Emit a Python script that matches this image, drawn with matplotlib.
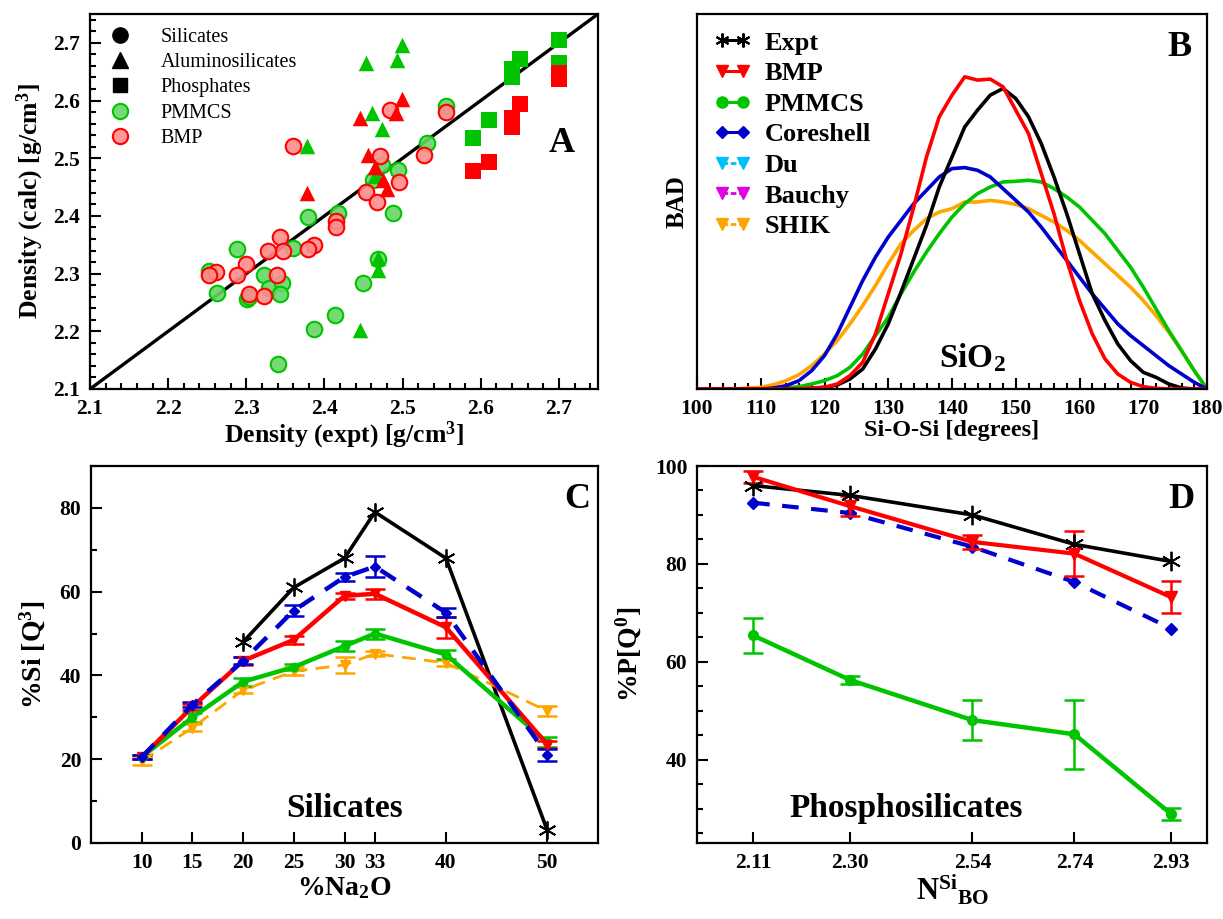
import matplotlib
matplotlib.use("Agg")
import matplotlib.pyplot as plt
from matplotlib.lines import Line2D
from matplotlib.ticker import MultipleLocator, NullLocator

plt.rcParams['font.family'] = ['Liberation Serif', 'DejaVu Serif']
plt.rcParams['font.weight'] = 'bold'
plt.rcParams['axes.labelweight'] = 'bold'
plt.rcParams['mathtext.fontset'] = 'custom'
plt.rcParams['mathtext.rm'] = 'Liberation Serif:bold'
plt.rcParams['mathtext.bf'] = 'Liberation Serif:bold'
plt.rcParams['mathtext.it'] = 'Liberation Serif:bold:italic'

GREEN = '#00c400'
RED = '#ff0000'
BLUE = '#0000cc'
ORANGE = '#ffa500'
CYAN = '#00bfff'
MAGENTA = '#e000e0'

# ---------------- Panel A: density scatter ----------------
pmmcs_sil_x = [2.555, 2.531, 2.494, 2.473, 2.462, 2.488, 2.379, 2.417, 2.360, 2.288, 2.252,
               2.263, 2.301, 2.304, 2.323, 2.329, 2.346, 2.343, 2.449, 2.414, 2.386, 2.340, 2.468]
pmmcs_sil_y = [2.591, 2.526, 2.479, 2.488, 2.462, 2.405, 2.398, 2.405, 2.345, 2.343, 2.304,
               2.266, 2.256, 2.259, 2.298, 2.275, 2.283, 2.264, 2.284, 2.229, 2.204, 2.143, 2.325]
bmp_sil_x = [2.360, 2.484, 2.555, 2.528, 2.471, 2.496, 2.453, 2.467, 2.415, 2.415, 2.386,
             2.379, 2.343, 2.347, 2.328, 2.300, 2.288, 2.261, 2.252, 2.339, 2.303, 2.323]
bmp_sil_y = [2.522, 2.584, 2.581, 2.506, 2.504, 2.459, 2.442, 2.425, 2.392, 2.381, 2.350,
             2.343, 2.363, 2.339, 2.340, 2.317, 2.297, 2.303, 2.297, 2.298, 2.264, 2.262]
pmmcs_alu_x = [2.453, 2.493, 2.499, 2.461, 2.474, 2.378, 2.468, 2.468, 2.446, 2.465]
pmmcs_alu_y = [2.665, 2.671, 2.697, 2.579, 2.550, 2.521, 2.327, 2.307, 2.203, 2.470]
bmp_alu_x = [2.445, 2.499, 2.492, 2.378, 2.456, 2.465, 2.475, 2.480]
bmp_alu_y = [2.570, 2.602, 2.579, 2.440, 2.506, 2.485, 2.462, 2.447]
pmmcs_pho_x = [2.59, 2.61, 2.64, 2.64, 2.65, 2.70, 2.70]
pmmcs_pho_y = [2.535, 2.567, 2.640, 2.655, 2.672, 2.705, 2.665]
bmp_pho_x = [2.59, 2.61, 2.64, 2.64, 2.65, 2.70, 2.70]
bmp_pho_y = [2.478, 2.494, 2.555, 2.570, 2.594, 2.637, 2.648]

# ---------------- Panel B: Si-O-Si bond angle distributions ----------------
angle = list(range(100, 181, 2))
bad_expt = [0, 0, 0, 0, 0, 0, 0, 0, 0, 0.002, 0.005, 0.012, 0.03, 0.06, 0.12, 0.195, 0.29,
            0.39, 0.49, 0.605, 0.695, 0.785, 0.835, 0.88, 0.9, 0.87, 0.815, 0.735, 0.635,
            0.525, 0.405, 0.285, 0.205, 0.135, 0.085, 0.05, 0.035, 0.015, 0.003, 0, 0]
bad_bmp = [0, 0, 0, 0, 0, 0, 0, 0, 0, 0.003, 0.005, 0.015, 0.04, 0.08, 0.165, 0.285, 0.405,
           0.545, 0.695, 0.815, 0.88, 0.935, 0.925, 0.928, 0.905, 0.835, 0.765, 0.645, 0.525,
           0.385, 0.265, 0.165, 0.09, 0.045, 0.02, 0.007, 0.002, 0, 0, 0, 0]
bad_pmmcs = [0, 0, 0, 0, 0, 0, 0, 0.003, 0.007, 0.015, 0.025, 0.04, 0.065, 0.105, 0.16, 0.215,
             0.285, 0.35, 0.41, 0.465, 0.515, 0.555, 0.585, 0.605, 0.62, 0.622, 0.625, 0.62,
             0.6, 0.575, 0.545, 0.505, 0.465, 0.415, 0.365, 0.305, 0.24, 0.175, 0.115, 0.055, 0]
bad_coreshell = [0, 0, 0, 0, 0, 0, 0.003, 0.01, 0.025, 0.055, 0.1, 0.165, 0.245, 0.325, 0.395,
                 0.455, 0.505, 0.555, 0.595, 0.635, 0.66, 0.663, 0.655, 0.635, 0.6, 0.565, 0.53,
                 0.485, 0.435, 0.385, 0.335, 0.285, 0.24, 0.195, 0.16, 0.13, 0.1, 0.07, 0.045,
                 0.02, 0]
bad_shik = [0, 0, 0, 0, 0.003, 0.005, 0.013, 0.025, 0.043, 0.07, 0.105, 0.145, 0.195, 0.25,
            0.31, 0.375, 0.435, 0.475, 0.51, 0.53, 0.54, 0.56, 0.56, 0.565, 0.56, 0.553, 0.54,
            0.52, 0.5, 0.475, 0.445, 0.41, 0.375, 0.34, 0.305, 0.265, 0.22, 0.17, 0.115, 0.055, 0]

# ---------------- Panel C: silicates Q3 ----------------
na2o = [10, 15, 20, 25, 30, 33, 40, 50]
c_expt_x = [20, 25, 30, 33, 40, 50]
c_expt = [48, 61, 68, 79, 68, 3]
c_core = [20.5, 33, 43.5, 55.5, 63.5, 66, 55, 21]
c_core_err = [0.5, 0.6, 0.8, 1.2, 1.0, 2.5, 1.0, 1.5]
c_bmp = [20.5, 32.5, 43.5, 48.5, 59, 59.5, 51.5, 23.5]
c_bmp_err = [0.5, 0.8, 1.0, 1.0, 0.7, 1.2, 2.5, 0.8]
c_pmmcs = [20.5, 30, 38.5, 42, 47, 50, 45, 24]
c_pmmcs_err = [0.5, 1.0, 1.0, 0.8, 1.2, 1.2, 1.0, 1.2]
c_shik = [19.5, 27.5, 36.5, 41, 42.5, 45.2, 43, 31.5]
c_shik_err = [0.8, 0.8, 0.8, 1.0, 2.0, 0.6, 0.8, 1.2]

# ---------------- Panel D: phosphosilicates P Q0 ----------------
nbo = [2.11, 2.30, 2.54, 2.74, 2.93]
nbo_labels = ['2.11', '2.30', '2.54', '2.74', '2.93']
d_expt = [96, 94, 90, 84, 80.5]
d_bmp = [97.8, 91.8, 84.5, 82.1, 73.2]
d_bmp_err = [1.2, 2.0, 1.5, 4.6, 3.3]
d_core = [92.5, 90.4, 83.5, 76.3, 66.8]
d_pmmcs = [65.4, 56.3, 48.1, 45.2, 28.9]
d_pmmcs_err = [3.6, 0.8, 4.1, 7.0, 1.2]

W, H = 1223, 919
fig = plt.figure(figsize=(W / 100, H / 100), dpi=100)


def box(l, t, r, b):
    return [l / W, 1 - b / H, (r - l) / W, (b - t) / H]


def style(ax):
    for s in ax.spines.values():
        s.set_linewidth(1.6)
    ax.tick_params(which='both', direction='in', top=False, right=False, width=1.5,
                   labelsize=15.5, pad=7)
    ax.tick_params(which='major', length=8)
    ax.tick_params(which='minor', length=4.5)


ax_a = fig.add_axes(box(90, 14, 598, 389))
ax_b = fig.add_axes(box(697, 14, 1207, 389))
ax_c = fig.add_axes(box(91, 466, 598, 843))
ax_d = fig.add_axes(box(697, 466, 1207, 843))

# ----- A -----
ax = ax_a
style(ax)
ax.plot([2.1, 2.75], [2.1, 2.75], color='black', lw=2.4, zorder=1)
gface = (0.4, 0.84, 0.4, 0.9)
rface = (1.0, 0.55, 0.55, 0.9)
ms = 125
ax.scatter(pmmcs_sil_x, pmmcs_sil_y, s=ms, marker='o', facecolor=gface, edgecolor=GREEN, lw=1.5, zorder=2)
ax.scatter(bmp_sil_x, bmp_sil_y, s=ms, marker='o', facecolor=rface, edgecolor=RED, lw=1.5, zorder=3)
ax.scatter(pmmcs_alu_x, pmmcs_alu_y, s=ms, marker='^', color=GREEN, lw=0, zorder=2)
ax.scatter(bmp_alu_x, bmp_alu_y, s=ms, marker='^', color=RED, lw=0, zorder=3)
ax.scatter(pmmcs_pho_x, pmmcs_pho_y, s=ms * 0.95, marker='s', color=GREEN, lw=0, zorder=2)
ax.scatter(bmp_pho_x, bmp_pho_y, s=ms * 0.95, marker='s', color=RED, lw=0, zorder=3)
ax.set_xlim(2.1, 2.75)
ax.set_ylim(2.1, 2.75)
ticks_a = [2.1, 2.2, 2.3, 2.4, 2.5, 2.6, 2.7]
ax.set_xticks(ticks_a)
ax.set_yticks(ticks_a)
ax.set_xticklabels([f'{v:.1f}' for v in ticks_a])
ax.set_yticklabels([f'{v:.1f}' for v in ticks_a])
ax.xaxis.set_minor_locator(MultipleLocator(0.02))
ax.yaxis.set_minor_locator(MultipleLocator(0.02))
ax.set_xlabel('Density (expt) [g/cm$^3$]', fontsize=18.5, labelpad=1)
ax.set_ylabel('Density (calc) [g/cm$^3$]', fontsize=18.5, labelpad=5)
ax.text(2.72, 2.525, 'A', fontsize=26, ha='right', va='center')
handles_a = [
    Line2D([], [], ls='none', marker='o', ms=11, color='black'),
    Line2D([], [], ls='none', marker='^', ms=11, color='black'),
    Line2D([], [], ls='none', marker='s', ms=10, color='black'),
    Line2D([], [], ls='none', marker='o', ms=11, mfc=gface, mec=GREEN, mew=1.5),
    Line2D([], [], ls='none', marker='o', ms=11, mfc=rface, mec=RED, mew=1.5),
]
ax.legend(handles_a, ['Silicates', 'Aluminosilicates', 'Phosphates', 'PMMCS', 'BMP'],
          loc='upper left', frameon=False, prop={'weight': 'normal', 'size': 14.5},
          handletextpad=1.2, labelspacing=0.3, borderaxespad=0.3, handlelength=1.6)

# ----- B -----
ax = ax_b
style(ax)
lw_b = 2.6
ax.plot(angle, bad_shik, color=ORANGE, lw=lw_b)
ax.plot(angle, bad_pmmcs, color=GREEN, lw=lw_b)
ax.plot(angle, bad_coreshell, color=BLUE, lw=lw_b)
ax.plot(angle, bad_expt, color='black', lw=lw_b)
ax.plot(angle, bad_bmp, color=RED, lw=lw_b)
ax.set_xlim(100, 180)
ax.set_ylim(0, 1.123)
ax.xaxis.set_major_locator(MultipleLocator(10))
ax.xaxis.set_minor_locator(MultipleLocator(2))
ax.yaxis.set_major_locator(NullLocator())
ax.yaxis.set_minor_locator(NullLocator())
ax.set_xlabel('Si-O-Si [degrees]', fontsize=17.5, labelpad=1)
ax.set_ylabel('BAD', fontsize=18, labelpad=6)
ax.text(0.97, 0.955, 'B', transform=ax.transAxes, fontsize=26, ha='right', va='top')
ax.text(0.54, 0.04, 'SiO$_2$', transform=ax.transAxes, fontsize=24, ha='center', va='bottom')
handles_b = [
    Line2D([], [], color='black', lw=2.2, marker=(6, 2, 0), ms=10, mew=1.5),
    Line2D([], [], color=RED, lw=2.2, marker='v', ms=8),
    Line2D([], [], color=GREEN, lw=2.2, marker='o', ms=8),
    Line2D([], [], color=BLUE, lw=2.2, marker='D', ms=6),
    Line2D([], [], color=CYAN, lw=2.0, ls=(0, (2, 1)), marker='v', ms=8),
    Line2D([], [], color=MAGENTA, lw=2.0, ls=(0, (2, 1)), marker='v', ms=8),
    Line2D([], [], color=ORANGE, lw=2.0, ls=(0, (2, 1)), marker='v', ms=8),
]
ax.legend(handles_b, ['Expt', 'BMP', 'PMMCS', 'Coreshell', 'Du', 'Bauchy', 'SHIK'],
          loc='upper left', frameon=False, prop={'weight': 'bold', 'size': 19},
          numpoints=2, handlelength=1.4, handletextpad=0.5, labelspacing=0.27,
          borderaxespad=0.25)

# ----- C -----
ax = ax_c
style(ax)
ekw = dict(capsize=7, elinewidth=1.8, capthick=1.8)
ax.errorbar(na2o, c_shik, yerr=c_shik_err, color=ORANGE, lw=2.0, ls=(0, (5, 3)),
            marker='v', ms=7, **ekw)
ax.errorbar(na2o, c_pmmcs, yerr=c_pmmcs_err, color=GREEN, lw=3.2, marker='o', ms=6, **ekw)
ax.errorbar(na2o, c_bmp, yerr=c_bmp_err, color=RED, lw=3.2, marker='v', ms=7, **ekw)
ax.errorbar(na2o, c_core, yerr=c_core_err, color=BLUE, lw=3.2, ls=(0, (4, 3)),
            marker='D', ms=5, **ekw)
ax.plot(c_expt_x, c_expt, color='black', lw=2.6, marker=(6, 2, 0), ms=13, mew=1.3)
ax.set_xlim(5, 55)
ax.set_ylim(0, 90)
ax.set_xticks(na2o)
ax.set_xticklabels([str(v) for v in na2o])
ax.yaxis.set_major_locator(MultipleLocator(20))
ax.yaxis.set_minor_locator(MultipleLocator(10))
ax.set_xlabel('%Na$_2$O', fontsize=20, labelpad=2)
ax.set_ylabel('%Si [Q$^3$]', fontsize=20, labelpad=8)
ax.text(0.985, 0.955, 'C', transform=ax.transAxes, fontsize=26, ha='right', va='top')
ax.text(0.5, 0.05, 'Silicates', transform=ax.transAxes, fontsize=24, ha='center', va='bottom')

# ----- D -----
ax = ax_d
style(ax)
ax.errorbar(nbo, d_pmmcs, yerr=d_pmmcs_err, color=GREEN, lw=3.2, marker='o', ms=7, **ekw)
ax.plot(nbo, d_core, color=BLUE, lw=3.0, ls=(0, (4, 3)), marker='D', ms=6)
ax.errorbar(nbo, d_bmp, yerr=d_bmp_err, color=RED, lw=3.0, marker='v', ms=8, **ekw)
ax.plot(nbo, d_expt, color='black', lw=2.6, marker=(6, 2, 0), ms=14, mew=1.3)
ax.set_xlim(2.0, 3.0)
ax.set_ylim(23, 100)
ax.set_xticks(nbo)
ax.set_xticklabels(nbo_labels)
ax.yaxis.set_major_locator(MultipleLocator(20))
ax.yaxis.set_minor_locator(MultipleLocator(5))
ax.set_xlabel(r'N$^{\mathrm{Si}}{}_{\mathrm{BO}}$', fontsize=22, labelpad=0)
ax.set_ylabel('%P[Q$^0$]', fontsize=20, labelpad=8)
ax.text(0.975, 0.955, 'D', transform=ax.transAxes, fontsize=26, ha='right', va='top')
ax.text(0.41, 0.05, 'Phosphosilicates', transform=ax.transAxes, fontsize=24,
        ha='center', va='bottom')

fig.savefig('out.png', dpi=100)
